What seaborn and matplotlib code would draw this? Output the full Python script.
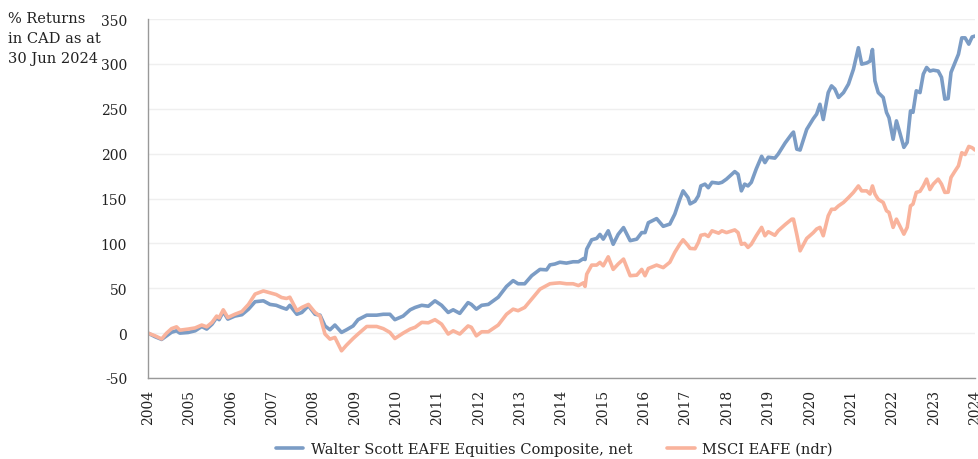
import matplotlib
matplotlib.use("Agg")
import matplotlib.pyplot as plt
import seaborn as sns
import pandas as pd
import numpy as np

dates = [2004.00, 2004.17, 2004.33, 2004.45, 2004.57, 2004.69, 2004.77, 2004.97, 2005.14, 2005.30,
         2005.42, 2005.55, 2005.66, 2005.72, 2005.82, 2005.93, 2006.10, 2006.27, 2006.43, 2006.59,
         2006.79, 2006.95, 2007.10, 2007.23, 2007.35, 2007.43, 2007.60, 2007.72, 2007.88, 2008.04,
         2008.16, 2008.28, 2008.40, 2008.52, 2008.68, 2008.80, 2008.96, 2009.08, 2009.29, 2009.53,
         2009.69, 2009.85, 2009.97, 2010.17, 2010.34, 2010.46, 2010.62, 2010.78, 2010.94, 2011.10,
         2011.26, 2011.38, 2011.54, 2011.74, 2011.82, 2011.94, 2012.07, 2012.23, 2012.47, 2012.67,
         2012.83, 2012.95, 2013.11, 2013.28, 2013.48, 2013.64, 2013.72, 2013.84, 2013.96, 2014.12,
         2014.28, 2014.41, 2014.53, 2014.57, 2014.61, 2014.73, 2014.85, 2014.93, 2015.01, 2015.13,
         2015.25, 2015.37, 2015.50, 2015.66, 2015.82, 2015.94, 2016.02, 2016.10, 2016.30, 2016.46,
         2016.62, 2016.74, 2016.86, 2016.94, 2017.06, 2017.11, 2017.23, 2017.31, 2017.37, 2017.47,
         2017.55, 2017.64, 2017.80, 2017.88, 2017.99, 2018.19, 2018.27, 2018.35, 2018.43, 2018.51,
         2018.59, 2018.71, 2018.84, 2018.92, 2019.00, 2019.16, 2019.24, 2019.41, 2019.57, 2019.61,
         2019.69, 2019.77, 2019.93, 2020.09, 2020.17, 2020.25, 2020.33, 2020.45, 2020.53, 2020.61,
         2020.70, 2020.82, 2020.94, 2021.06, 2021.18, 2021.26, 2021.38, 2021.46, 2021.52, 2021.58,
         2021.66, 2021.78, 2021.86, 2021.92, 2022.02, 2022.10, 2022.18, 2022.28, 2022.36, 2022.44,
         2022.50, 2022.58, 2022.67, 2022.75, 2022.83, 2022.91, 2022.99, 2023.11, 2023.19, 2023.27,
         2023.35, 2023.42, 2023.52, 2023.60, 2023.68, 2023.76, 2023.85, 2023.93, 2024.00]

walter_scott = [0, -4, -7, -3, 1, 2.6, 0, 0.7, 2.6, 7.4,
                4.5, 10, 17.4, 15, 24, 15.6, 19, 20.5, 26.7, 35,
                36, 32, 31, 28.6, 26.7, 31, 21, 23, 30.5, 21,
                20, 8, 3.7, 9, 0.8, 3.7, 8, 15, 20, 20,
                21, 21, 15, 19, 26, 28.6, 31, 30, 36, 31,
                23, 26, 22, 34, 32, 26.7, 31, 32, 40, 52,
                58.5, 55, 55, 64, 71, 70.5, 76, 77, 79, 78,
                79.5, 79.5, 83, 82, 93.6, 104, 105.5, 110, 104.7, 114,
                99, 110, 117.6, 103, 104.7, 112, 112, 123, 127.6, 119,
                121.5, 132.6, 149, 158.5, 151, 144, 147, 153, 164, 166,
                162, 168, 167, 168, 171.6, 180, 177, 158.5, 166, 164,
                168, 183, 197, 190, 196, 195, 199.5, 212, 222, 224,
                205, 204, 227, 239, 244, 255, 238, 268, 275.5, 272,
                262.6, 268, 277.5, 294, 318, 299.7, 301, 303, 316, 281,
                268, 262.6, 245.9, 240, 216, 236.5, 223.6, 207, 212.5, 247.6,
                246, 270, 268, 288.6, 296, 292, 293, 292, 285, 260.7,
                261.4, 290.5, 301.6, 310.8, 329, 329, 322, 330, 331]

msci_eafe = [0, -3, -6.5, 0, 5, 7, 3.3, 4.5, 5.8, 9,
             7, 12, 19, 17, 26, 17.4, 21, 24, 32, 43.5,
             47, 45, 43, 39.7, 38.6, 40, 25, 28.6, 32, 23,
             19, -1, -6.7, -4.8, -19.7, -13.4, -6, -1, 7.4, 7.4,
             5, 0.8, -6, 0, 4.5, 6.5, 12, 11.5, 15, 10,
             -1, 2.6, -1, 8, 6.5, -3, 1.5, 1.5, 9, 21,
             26.7, 25, 28.6, 38, 49, 53, 55, 55.6, 56, 55,
             55, 53, 56, 52, 65.7, 75.8, 75.8, 78.8, 75, 85,
             71, 77, 82.5, 64, 64.6, 71, 64, 72, 75.8, 73,
             79, 90, 99, 104, 97.6, 94.4, 94, 101, 109, 110,
             107.7, 114, 111.4, 114, 112, 115, 112, 99, 100, 95.5,
             99, 108.5, 117.8, 108.5, 113, 109, 114, 121, 127, 127,
             110, 91.7, 105.5, 112, 116, 117.8, 108.5, 130.7, 138, 138,
             141.8, 145.6, 151, 156.8, 164, 158.5, 158.5, 155, 164, 155,
             149, 145.6, 136.3, 134.5, 117.8, 127, 119.6, 110.3, 117.8, 141.8,
             143.7, 156.8, 158, 164, 171.6, 160, 166, 171.6, 166, 156.8,
             157, 173.5, 180.8, 186.4, 201, 199, 208, 206.6, 204]

series_names = ["Walter Scott EAFE Equities Composite, net", "MSCI EAFE (ndr)"]
year_ticks = list(range(2004, 2025))
y_ticks = [-50, 0, 50, 100, 150, 200, 250, 300, 350]
y_title = "% Returns\nin CAD as at\n30 Jun 2024"

df = pd.DataFrame({
    "date": dates * 2,
    "value": walter_scott + msci_eafe,
    "series": [series_names[0]] * len(dates) + [series_names[1]] * len(dates),
})

sns.set_theme(style="white")
plt.rcParams["font.family"] = ["DejaVu Serif"]
plt.rcParams["axes.unicode_minus"] = False

fig = plt.figure(figsize=(9.79, 4.60), dpi=100)
ax = fig.add_axes([148 / 979, 1 - 379 / 460, (975 - 148) / 979, (379 - 20) / 460])

palette = {series_names[0]: "#7b9cc5", series_names[1]: "#f9b39c"}
sns.lineplot(data=df, x="date", y="value", hue="series", palette=palette,
             linewidth=2.6, ax=ax, legend=True)

ax.set_xlim(2004, 2024)
ax.set_ylim(-50, 350)
ax.set_xticks(year_ticks)
ax.set_xticklabels([str(y) for y in year_ticks], rotation=90)
ax.set_yticks(y_ticks)
ax.set_yticklabels([str(v) for v in y_ticks])
ax.set_xlabel("")
ax.set_ylabel("")

ax.yaxis.grid(True, color="#efefef", linewidth=1)
ax.xaxis.grid(False)
for s in ["top", "right"]:
    ax.spines[s].set_visible(False)
for s in ["left", "bottom"]:
    ax.spines[s].set_color("#999999")
    ax.spines[s].set_linewidth(1)
ax.tick_params(axis="both", which="both", length=5, width=1, color="#999999",
               labelsize=10, labelcolor="#222222", direction="out")
ax.tick_params(axis="x", pad=3)
ax.tick_params(axis="y", pad=10)
for t in ax.get_yticklabels():
    t.set_horizontalalignment("right")

fig.text(8 / 979, 1 - 12 / 460, y_title, ha="left", va="top", fontsize=10.5,
         color="#222222", linespacing=1.55)

handles, labels = ax.get_legend_handles_labels()
ax.legend_.remove()
fig.legend(handles, labels, loc="lower center", bbox_to_anchor=(0.566, -0.022), ncol=2,
           frameon=False, fontsize=10.5, handlelength=1.9, handletextpad=0.5,
           columnspacing=2.4, labelcolor="#222222")

fig.savefig("out.png", dpi=100)
